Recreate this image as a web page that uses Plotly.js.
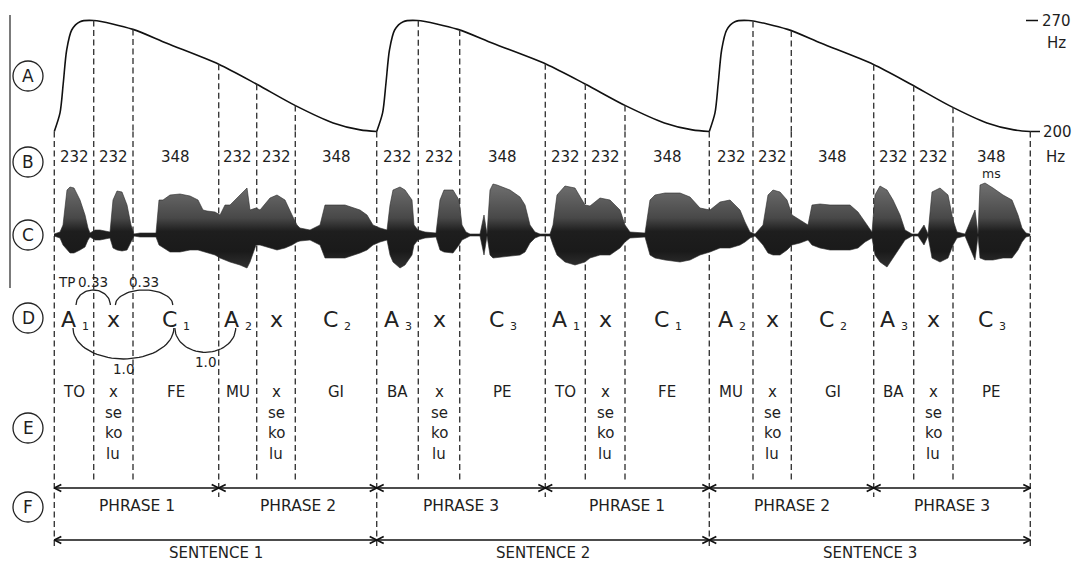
<!DOCTYPE html>
<html><head><meta charset="utf-8">
<script src="https://cdn.plot.ly/plotly-3.0.1.min.js"></script>
<style>html,body{margin:0;padding:0;background:#fff}#chart{width:1073px;height:563px}</style>
</head><body><div id="chart"></div>
<script>
// ---------------- DATA ----------------
// segment boundaries along the utterance (horizontal position units of the figure)
const boundaries = [54.3, 93.7, 133, 218.7, 256.7, 295.3, 376.7, 418.3, 459.7, 545.3, 585.3, 625, 709.3, 753, 791.3, 873.7, 913.7, 953, 1030.3];
// syllable durations (ms)
const durationsMs = [232,232,348,232,232,348, 232,232,348,232,232,348, 232,232,348,232,232,348];
// row D labels (letter + subscript)
const labelsD    = ['A','x','C','A','x','C','A','x','C','A','x','C','A','x','C','A','x','C'];
const labelsDSub = ['1','','1','2','','2','3','','3','1','','1','2','','2','3','','3'];
// row E syllables ('/' = new line)
const syllables = ['TO','x/se/ko/lu','FE','MU','x/se/ko/lu','GI','BA','x/se/ko/lu','PE',
                   'TO','x/se/ko/lu','FE','MU','x/se/ko/lu','GI','BA','x/se/ko/lu','PE'];
const phraseNames = ['PHRASE 1','PHRASE 2','PHRASE 3','PHRASE 1','PHRASE 2','PHRASE 3'];
const sentenceNames = ['SENTENCE 1','SENTENCE 2','SENTENCE 3'];
const rowLetters = ['A','B','C','D','E','F'];
// pitch contour template of one sentence (fraction of sentence, Hz)
const pitchFrac = [0, 0.0177, 0.0279, 0.0384, 0.054, 0.0797, 0.122, 0.244, 0.349, 0.510, 0.628, 0.748, 0.865, 0.949, 1.0];
const pitchHz   = [200, 211.7, 230.6, 251.4, 264, 269.2, 270, 264.4, 255.6, 242.4, 229.8, 216.3, 205.4, 201, 200];
const pitchTicks = [270, 200];
// transitional probabilities (segment indices)
const transFrom = [0, 1, 0, 2];
const transTo   = [1, 2, 2, 3];
const transTP   = ['0.33', '0.33', '1.0', '1.0'];
const transSide = ['up', 'up', 'down', 'down'];
// waveform envelope: position, positive peak, negative peak (arbitrary amplitude units)
const waveX = [54,60,63,67,70,74,80,85,88,90,95,100,105,110,113,117,122,127,131,134,140,150,156,159,163,170,180,190,198,203,207,215,220,225,230,240,247,250,256,260,270,277,285,292,297,300,310,320,325,330,345,360,367,373,380,387,
  390,393,400,405,412,414,418,425,436,440,444,453,459,462,466,470,480,484,487,490,493,497,510,520,525,530,535,540,550,553,557,565,575,585,590,600,610,620,625,630,645,650,655,665,680,690,700,710,720,730,740,745,750,755,
  763,768,773,780,787,792,800,808,812,820,830,850,858,865,872,875,880,887,893,900,905,912,918,924,928,932,940,948,953,957,965,975,978,980,985,993,1003,1012,1018,1022,1026,1030];
const waveTop = [1,3,10,45,48,47,35,20,7,2,5,5,4,3,35,44,43,30,10,1,2,2,2,35,35,40,41,39,35,25,24,23,20,30,30,40,47,25,27,25,37,40,35,20,10,7,5,10,30,30,30,25,20,10,7,5,
  30,45,48,45,35,10,5,3,2,35,45,45,35,10,3,1,1,20,1,45,51,50,45,38,30,10,3,1,1,10,40,49,47,30,29,37,35,25,10,3,2,35,40,42,42,38,27,25,33,35,25,13,3,1,
  10,40,45,43,35,20,15,10,30,31,30,30,23,13,3,40,49,45,35,20,5,1,1,10,1,43,47,40,15,3,1,25,1,50,52,47,40,35,20,7,2,1];
const waveBot = [1,3,10,15,18,18,15,12,5,2,5,5,4,3,13,15,16,15,7,1,2,2,2,10,13,17,17,15,15,17,18,20,23,25,27,30,33,27,10,10,13,15,13,10,7,6,5,10,23,23,23,18,15,10,7,5,
  20,27,33,30,20,10,5,3,2,15,17,18,10,5,3,1,1,20,1,20,23,23,21,20,17,8,3,1,1,10,20,27,30,27,23,20,20,13,7,3,2,20,23,25,27,25,20,17,13,13,10,7,3,1,
  10,18,20,20,15,10,8,5,10,13,15,15,13,7,3,20,27,32,23,13,5,1,1,10,1,23,27,23,10,3,1,25,1,23,25,25,23,23,15,7,2,1];

// ---------------- LAYOUT HELPERS ----------------
const FONT = 'DejaVu Sans, Verdana, sans-serif';
const INK = '#1e1e1e';
const nSeg = boundaries.length - 1;
const segCenter = i => (boundaries[i] + boundaries[i+1]) / 2;
const rowY = {A: 76, B: 162, C: 235, D: 318, E: 428, F: 507};
const yDur = 157, yLabD = 319, yLabE = 392, lineE = 20.5, yPhrase = 488, yPhraseTxt = 506, ySent = 540, ySentTxt = 553;

function pitchAtFrac(f) {
  for (let k = 1; k < pitchFrac.length; k++) {
    if (f <= pitchFrac[k]) {
      const t = (f - pitchFrac[k-1]) / (pitchFrac[k] - pitchFrac[k-1]);
      return pitchHz[k-1] + t * (pitchHz[k] - pitchHz[k-1]);
    }
  }
  return pitchHz[pitchHz.length - 1];
}

const traces = [];
const annotations = [];
const shapes = [];

// waveform (row C)
const wx = waveX.concat(waveX.slice().reverse());
const wy = waveTop.concat(waveBot.slice().reverse().map(v => -v));
traces.push({
  x: wx, y: wy, xaxis: 'x', yaxis: 'y3', mode: 'lines', fill: 'toself',
  line: {width: 0.6, color: '#2a2a2a'}, fillcolor: '#333',
  fillgradient: {type: 'vertical', start: -40, stop: 55,
    colorscale: [[0, '#3a3a3a'], [0.25, '#1a1a1a'], [0.46, '#1e1e1e'], [0.6, '#484848'], [1, '#747474']]},
  hoverinfo: 'skip'
});

// pitch contour (row A), one curve per sentence
for (let s = 0; s < 3; s++) {
  const a = boundaries[6*s], b = boundaries[6*s + 6];
  traces.push({
    x: pitchFrac.map(f => a + f * (b - a)), y: pitchHz, xaxis: 'x', yaxis: 'y2',
    mode: 'lines', line: {shape: 'spline', smoothing: 0.8, width: 1.6, color: '#111'}, hoverinfo: 'skip'
  });
}
// pitch scale ticks
traces.push({x: [1026, 1038], y: [pitchTicks[0], pitchTicks[0]], xaxis: 'x', yaxis: 'y2', mode: 'lines', line: {width: 1.4, color: '#111'}, hoverinfo: 'skip'});
traces.push({x: [boundaries[nSeg], 1040], y: [pitchTicks[1], pitchTicks[1]], xaxis: 'x', yaxis: 'y2', mode: 'lines', line: {width: 1.4, color: '#111'}, hoverinfo: 'skip'});

// dashed boundary lines
const upX = [], upY = [], loX = [], loY = [];
boundaries.forEach((b, i) => {
  const s = Math.min(Math.floor(i / 6), 2);
  const a = boundaries[6*s], e = boundaries[6*s + 6];
  const hz = (i % 6 === 0) ? 200 : pitchAtFrac((b - a) / (e - a));
  if (hz > 200.5) { upX.push(b, b, null); upY.push(hz, 200, null); }
  let bottom = 483;
  if (i % 6 === 0) bottom = 549; else if (i % 3 === 0) bottom = 497;
  loX.push(b, b, null); loY.push(131.5, bottom, null);
});
const dashStyle = {width: 1.4, color: '#3a3a3a', dash: '6px,3.5px'};
traces.push({x: upX, y: upY, xaxis: 'x', yaxis: 'y2', mode: 'lines', line: dashStyle, hoverinfo: 'skip'});
traces.push({x: loX, y: loY, xaxis: 'x', yaxis: 'y', mode: 'lines', line: dashStyle, hoverinfo: 'skip'});

// transition arcs (row D)
for (let k = 0; k < transFrom.length; k++) {
  const c1 = segCenter(transFrom[k]), c2 = segCenter(transTo[k]);
  const up = transSide[k] === 'up';
  const left = up ? c1 + 2 : c1 - 1, right = up ? c2 - 3 : c2 - 2;
  const cx = (left + right) / 2, rx = (right - left) / 2;
  const base = up ? 305 : 328;
  const ry = up ? 15 : Math.min(31, 0.8 * rx);
  const ax = [], ay = [];
  for (let t = 0; t <= 40; t++) {
    const th = Math.PI * t / 40;
    ax.push(cx - rx * Math.cos(th));
    ay.push(up ? base - ry * Math.sin(th) : base + ry * Math.sin(th));
  }
  traces.push({x: ax, y: ay, xaxis: 'x', yaxis: 'y', mode: 'lines', line: {width: 1.3, color: '#222'}, hoverinfo: 'skip'});
  const ty = up ? 282 : base + ry + 10;
  annotations.push({x: cx, y: ty, xref: 'x', yref: 'y', text: transTP[k], showarrow: false,
    font: {family: FONT, size: 13.5, color: INK}, xanchor: 'center', yanchor: 'middle'});
  if (k === 0) {
    annotations.push({x: cx - 16, y: ty, xref: 'x', yref: 'y', text: 'TP', showarrow: false,
      font: {family: FONT, size: 13.5, color: INK}, xanchor: 'right', yanchor: 'middle'});
  }
}

// row texts
for (let i = 0; i < nSeg; i++) {
  const cx = segCenter(i);
  annotations.push({x: cx, y: yDur, xref: 'x', yref: 'y', text: String(durationsMs[i]), showarrow: false,
    font: {family: FONT, size: 15, color: INK}, xanchor: 'center', yanchor: 'middle'});
  if (labelsDSub[i]) {
    annotations.push({x: cx + 3.5, y: yLabD, xref: 'x', yref: 'y', text: labelsD[i], showarrow: false,
      font: {family: FONT, size: 22, color: '#222'}, xanchor: 'right', yanchor: 'middle'});
    annotations.push({x: cx + 5.5, y: yLabD + 7, xref: 'x', yref: 'y', text: labelsDSub[i], showarrow: false,
      font: {family: FONT, size: 11, color: '#222'}, xanchor: 'left', yanchor: 'middle'});
  } else {
    annotations.push({x: cx, y: yLabD, xref: 'x', yref: 'y', text: labelsD[i], showarrow: false,
      font: {family: FONT, size: 22, color: '#222'}, xanchor: 'center', yanchor: 'middle'});
  }
  syllables[i].split('/').forEach((w, j) => {
    annotations.push({x: cx, y: yLabE + j * lineE, xref: 'x', yref: 'y', text: w, showarrow: false,
      font: {family: FONT, size: 15, color: INK}, xanchor: 'center', yanchor: 'middle'});
  });
}
annotations.push({x: segCenter(nSeg - 1), y: 173, xref: 'x', yref: 'y', text: 'ms', showarrow: false,
  font: {family: FONT, size: 12.5, color: INK}, xanchor: 'center', yanchor: 'middle'});
annotations.push({x: 1040, y: 20.5, xref: 'x', yref: 'y', text: String(pitchTicks[0]), showarrow: false,
  font: {family: FONT, size: 15, color: INK}, xanchor: 'left', yanchor: 'middle'});
annotations.push({x: 1056, y: 43, xref: 'x', yref: 'y', text: 'Hz', showarrow: false,
  font: {family: FONT, size: 15, color: INK}, xanchor: 'center', yanchor: 'middle'});
annotations.push({x: 1041, y: 131.5, xref: 'x', yref: 'y', text: String(pitchTicks[1]), showarrow: false,
  font: {family: FONT, size: 15, color: INK}, xanchor: 'left', yanchor: 'middle'});
annotations.push({x: 1055, y: 157, xref: 'x', yref: 'y', text: 'Hz', showarrow: false,
  font: {family: FONT, size: 15, color: INK}, xanchor: 'center', yanchor: 'middle'});

// phrase & sentence double arrows (shaft + chevron heads)
const arrX = [], arrY = [];
function dblArrow(x0, x1, y) {
  const L = 7, H = 3.6;
  arrX.push(x0, x1, null, x0 + L, x0, x0 + L, null, x1 - L, x1, x1 - L, null);
  arrY.push(y, y, null, y - H, y, y + H, null, y - H, y, y + H, null);
}
for (let p = 0; p < 6; p++) {
  const a = boundaries[3*p], b = boundaries[3*p + 3];
  dblArrow(a, b, yPhrase);
  annotations.push({x: (a + b) / 2, y: yPhraseTxt, xref: 'x', yref: 'y', text: phraseNames[p], showarrow: false,
    font: {family: FONT, size: 15.5, color: INK}, xanchor: 'center', yanchor: 'middle'});
}
for (let s = 0; s < 3; s++) {
  const a = boundaries[6*s], b = boundaries[6*s + 6];
  dblArrow(a, b, ySent);
  annotations.push({x: (a + b) / 2, y: ySentTxt, xref: 'x', yref: 'y', text: sentenceNames[s], showarrow: false,
    font: {family: FONT, size: 15, color: INK}, xanchor: 'center', yanchor: 'middle'});
}
traces.push({x: arrX, y: arrY, xaxis: 'x', yaxis: 'y', mode: 'lines', line: {width: 1.7, color: '#111'}, hoverinfo: 'skip'});

// row circles
rowLetters.forEach(L => {
  const cy = rowY[L], cx = 28, r = 15;
  shapes.push({type: 'circle', xref: 'x', yref: 'y', x0: cx - r, x1: cx + r, y0: cy - r, y1: cy + r,
    line: {color: '#222', width: 1.3}, fillcolor: 'rgba(0,0,0,0)'});
  annotations.push({x: cx, y: cy, xref: 'x', yref: 'y', text: L, showarrow: false,
    font: {family: FONT, size: 17, color: INK}, xanchor: 'center', yanchor: 'middle'});
});
// left vertical rule
shapes.push({type: 'line', xref: 'x', yref: 'y', x0: 10, x1: 10, y0: 15, y1: 288, line: {color: '#222', width: 1.2}});

const layout = {
  width: 1073, height: 563, margin: {l: 0, r: 0, t: 0, b: 0},
  paper_bgcolor: '#fff', plot_bgcolor: 'rgba(0,0,0,0)', showlegend: false, hovermode: false,
  xaxis: {range: [0, 1073], domain: [0, 1], visible: false, fixedrange: true},
  yaxis: {range: [563, 0], domain: [0, 1], visible: false, fixedrange: true},
  yaxis2: {range: [196, 274], domain: [1 - 137.84/563, 1 - 14.16/563], anchor: 'x', visible: false, fixedrange: true},
  yaxis3: {range: [-65, 65], domain: [1 - 300/563, 1 - 170/563], anchor: 'x', visible: false, fixedrange: true},
  annotations: annotations, shapes: shapes
};
Plotly.newPlot('chart', traces, layout, {displayModeBar: false, staticPlot: true});
</script></body></html>
